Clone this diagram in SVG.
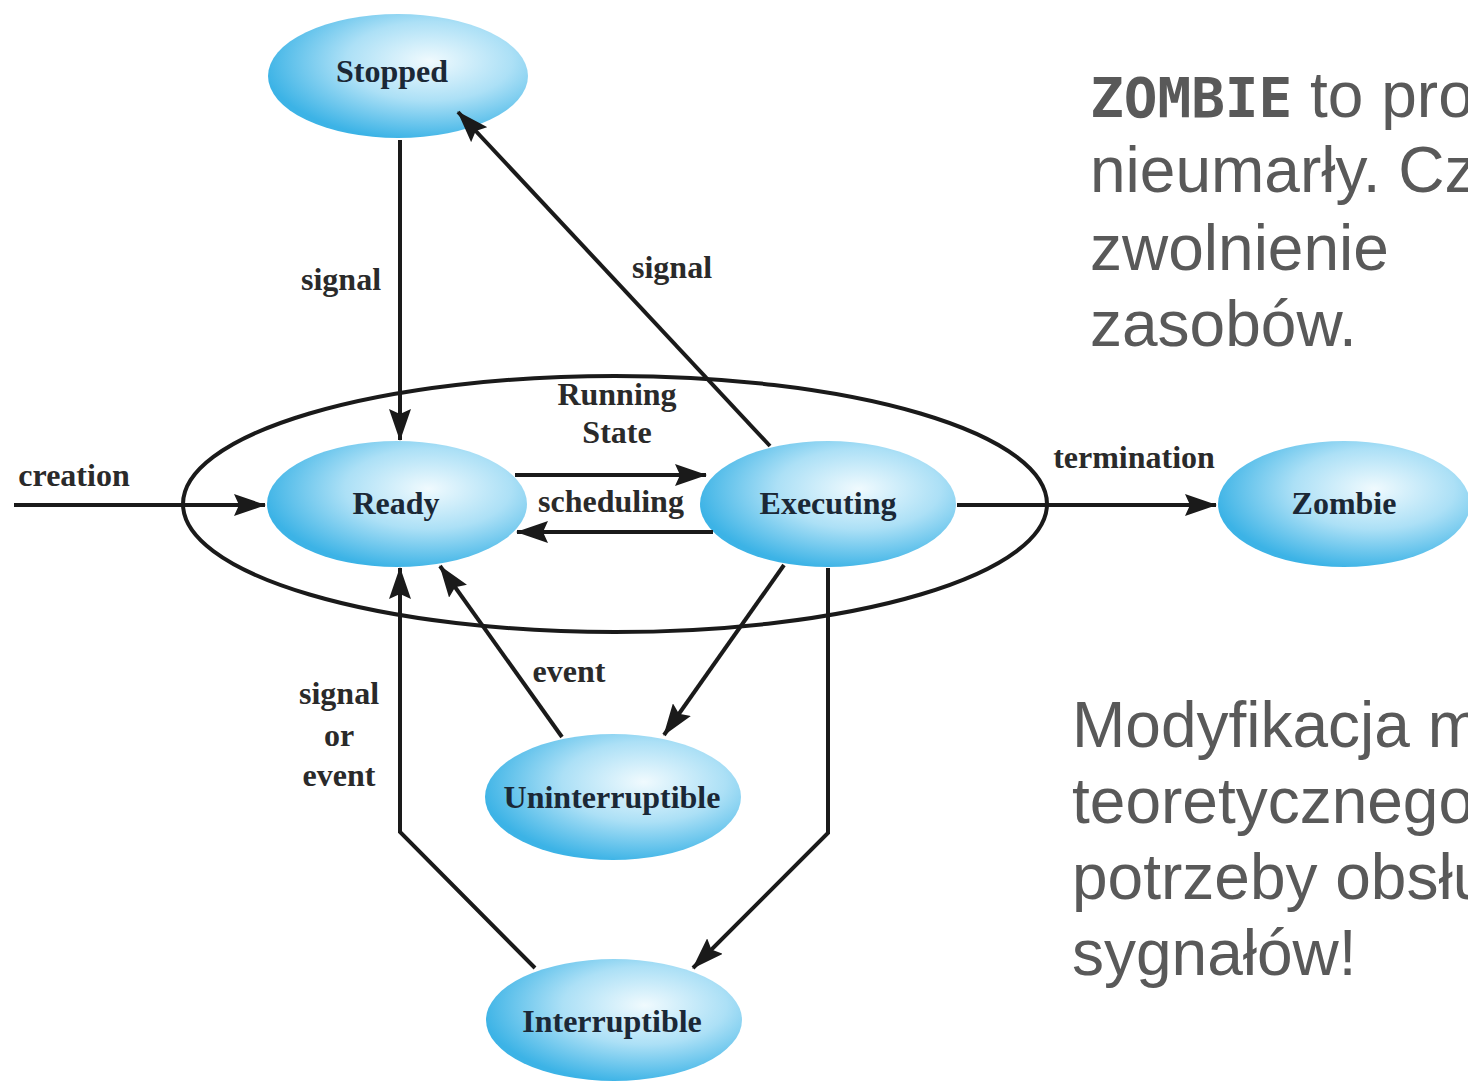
<svg xmlns="http://www.w3.org/2000/svg" width="1468" height="1082" viewBox="0 0 1468 1082">
<defs>
<radialGradient id="nodeFill" cx="62%" cy="38%" r="64%" fx="62%" fy="38%">
<stop offset="0" stop-color="#f0fafe"/>
<stop offset="0.5" stop-color="#ace0f6"/>
<stop offset="1" stop-color="#3cb3e6"/>
</radialGradient>
<marker id="arrow" markerUnits="userSpaceOnUse" viewBox="0 0 32 22" refX="31" refY="11" markerWidth="32" markerHeight="22" orient="auto">
<path d="M0,0 L32,11 L0,22 L5,11 z" fill="#1a1a1a"/>
</marker>
<style>
.node ellipse{fill:url(#nodeFill);stroke:none}
.node text{font-family:"Liberation Serif","Times New Roman",serif;font-weight:bold;font-size:32px;fill:#1b2836;text-anchor:middle}
.edge{fill:none;stroke:#1a1a1a;stroke-width:4}
.arr{marker-end:url(#arrow)}
.lbl{font-family:"Liberation Serif","Times New Roman",serif;font-weight:bold;font-size:32px;fill:#2a2a2a;text-anchor:middle}
.note{font-family:"Liberation Sans",Arial,sans-serif;font-size:64px;fill:#595959}
.mono{font-family:"DejaVu Sans Mono","Liberation Mono",monospace;font-weight:bold;font-size:56px}
</style>
</defs>
<rect width="1468" height="1082" fill="#ffffff"/>

<g id="running-state">
<ellipse cx="615" cy="504" rx="432" ry="128" fill="none" stroke="#1a1a1a" stroke-width="4"/>
<text class="lbl" x="617" y="405">Running</text>
<text class="lbl" x="617" y="443">State</text>
</g>

<g id="node-stopped" class="node">
<ellipse cx="398" cy="76" rx="130" ry="62"/>
<text x="392" y="82">Stopped</text>
</g>
<g id="node-ready" class="node">
<ellipse cx="397" cy="504" rx="130" ry="63"/>
<text x="396" y="514">Ready</text>
</g>
<g id="node-executing" class="node">
<ellipse cx="828" cy="504" rx="128" ry="63"/>
<text x="828" y="514">Executing</text>
</g>
<g id="node-zombie" class="node">
<ellipse cx="1344" cy="504" rx="126" ry="63"/>
<text x="1344" y="514">Zombie</text>
</g>
<g id="node-uninterruptible" class="node">
<ellipse cx="613" cy="797" rx="128" ry="63"/>
<text x="612" y="808">Uninterruptible</text>
</g>
<g id="node-interruptible" class="node">
<ellipse cx="614" cy="1020" rx="128" ry="61"/>
<text x="612" y="1032">Interruptible</text>
</g>

<g id="connectors">
<line class="edge arr" x1="14" y1="505" x2="265" y2="505"/>
<line class="edge arr" x1="400" y1="140" x2="400" y2="440"/>
<line class="edge arr" x1="770" y1="446" x2="458" y2="112"/>
<line class="edge arr" x1="515" y1="475" x2="706" y2="475"/>
<line class="edge arr" x1="713" y1="532" x2="517" y2="532"/>
<line class="edge arr" x1="957" y1="505" x2="1216" y2="505"/>
<line class="edge arr" x1="562" y1="737" x2="440" y2="566"/>
<line class="edge arr" x1="784" y1="565" x2="664" y2="735"/>
<polyline class="edge arr" points="828,568 828,833 693,968"/>
<polyline class="edge arr" points="535,968 400,832 400,568"/>
</g>

<g id="edge-labels">
<text class="lbl" x="74" y="486">creation</text>
<text class="lbl" x="341" y="290">signal</text>
<text class="lbl" x="672" y="278">signal</text>
<text class="lbl" x="611" y="512">scheduling</text>
<text class="lbl" x="1134" y="468">termination</text>
<text class="lbl" x="569" y="682">event</text>
<text class="lbl" x="339" y="704">signal</text>
<text class="lbl" x="339" y="746">or</text>
<text class="lbl" x="339" y="786">event</text>
</g>

<g id="notes">
<text class="note" x="1090" y="117"><tspan class="mono">ZOMBIE</tspan> to pro</text>
<text class="note" x="1090" y="192">nieumarły. Cz</text>
<text class="note" x="1090" y="270">zwolnienie</text>
<text class="note" x="1090" y="346">zasobów.</text>
<text class="note" x="1072" y="747">Modyfikacja m</text>
<text class="note" x="1072" y="823">teoretycznego</text>
<text class="note" x="1072" y="899">potrzeby obsłu</text>
<text class="note" x="1072" y="975">sygnałów!</text>
</g>
</svg>
